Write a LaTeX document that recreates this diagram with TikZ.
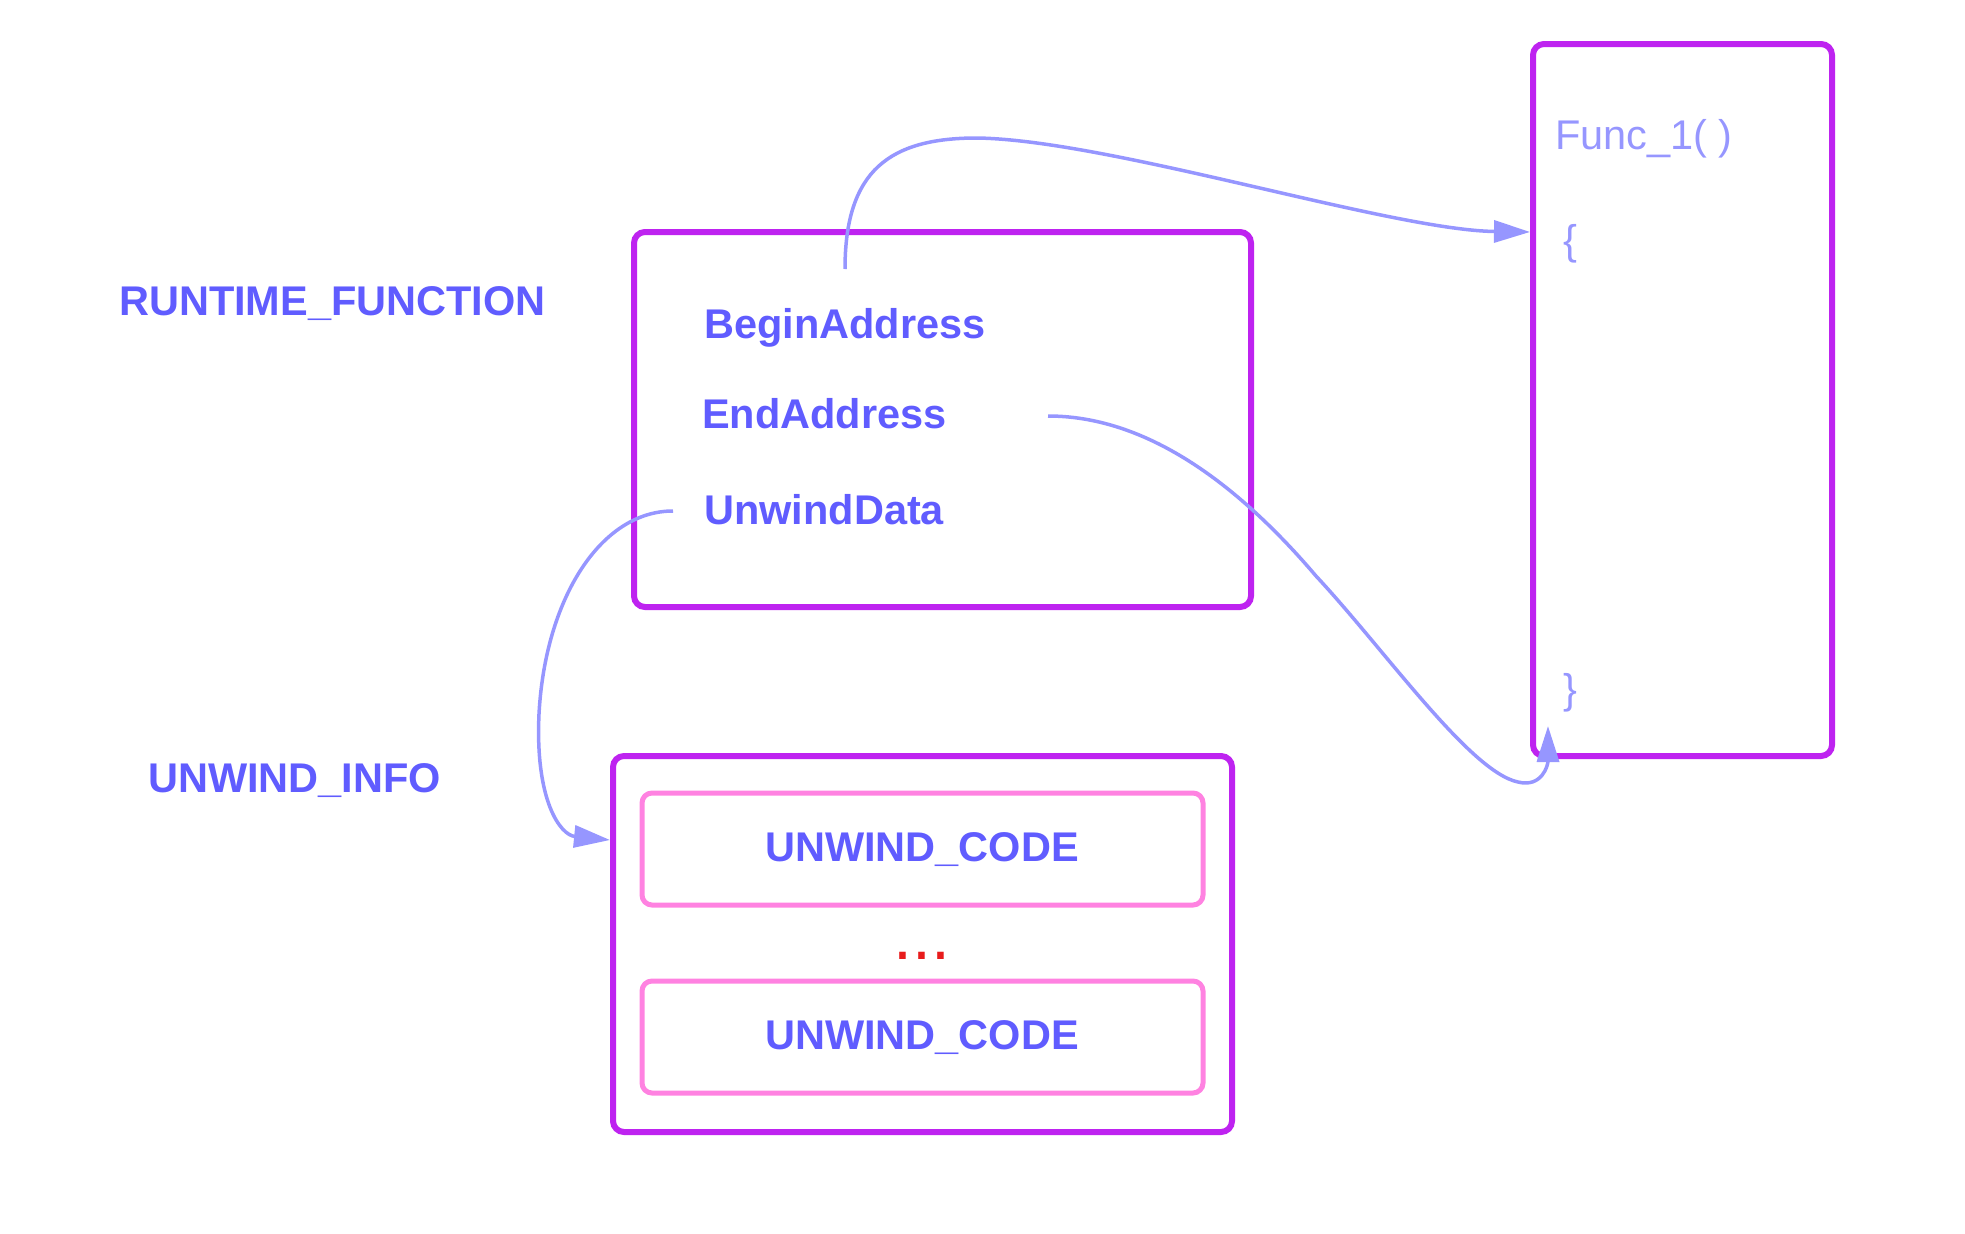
\documentclass[tikz,border=0pt]{standalone}
\usepackage{fontspec}
\setmainfont{Liberation Sans}
\usetikzlibrary{arrows.meta}
\definecolor{boxpurple}{RGB}{190,35,240}
\definecolor{txtblue}{RGB}{96,92,255}
\definecolor{lightblue}{RGB}{150,150,255}
\definecolor{pinkc}{RGB}{255,130,225}
\definecolor{dotred}{RGB}{232,28,28}
\tikzset{
  bigbox/.style={draw=boxpurple, line width=6pt, rounded corners=11pt, inner sep=0pt},
  codebox/.style={draw=pinkc, line width=5pt, rounded corners=10pt, inner sep=0pt},
  lbl/.style={inner sep=0pt, anchor=base west, text=txtblue, font=\fontsize{41.5}{48}\selectfont\bfseries},
  codelbl/.style={inner sep=0pt, anchor=base, text=txtblue, font=\fontsize{41.5}{48}\selectfont\bfseries},
  lighttxt/.style={inner sep=0pt, anchor=base west, text=lightblue, font=\fontsize{41.5}{48}\selectfont},
  conn/.style={draw=lightblue, line width=3.5pt, -{Triangle[length=36pt,width=22pt]}}
}
\begin{document}
\begin{tikzpicture}[x=1pt,y=-1pt]
\useasboundingbox (0,0) rectangle (1965,1234);
% boxes
\node[bigbox, minimum width=617pt, minimum height=375pt] (rf) at (942.5,419.5) {};
\node[bigbox, minimum width=299pt, minimum height=712pt] (func) at (1682.5,400) {};
\node[bigbox, minimum width=619pt, minimum height=376pt] (ui) at (922.5,944) {};
\node[codebox, minimum width=561pt, minimum height=112pt] (uc1) at (922.5,849) {};
\node[codebox, minimum width=561pt, minimum height=112pt] (uc2) at (922.5,1037) {};
% labels
\node[lbl] (lrf) at (119,315) {RUNTIME\_FUNCTION};
\node[lbl] (lui) at (148,792) {UNWIND\_INFO};
\node[lbl] (lba) at (704,338) {BeginAddress};
\node[lbl] (lea) at (702,428) {EndAddress};
\node[lbl] (lud) at (704,524) {UnwindData};
\node[codelbl] (luc1) at (922,861) {UNWIND\_CODE};
\node[codelbl] (luc2) at (922,1049) {UNWIND\_CODE};
\node[inner sep=0pt, anchor=base, text=dotred, font=\fontsize{68}{68}\selectfont] (dots) at (922,959) {...};
\node[lighttxt] (lfn) at (1555,149) {Func\_1( )};
\node[lighttxt] (lob) at (1563,254) {\{};
\node[lighttxt] (lcb) at (1563,703) {\}};
% connector coordinates
\coordinate (s1) at (845,269);
\coordinate (m1) at (977,138);
\coordinate (e1) at (func.west |- 0,232);
\coordinate (s2) at (1048,416);
\coordinate (m2) at (1316,576);
\coordinate (m2b) at (1518,782);
\coordinate (e2) at (1548,726);
\coordinate (s3) at (673,511);
\coordinate (m3) at (539,714);
\coordinate (e3) at (ui.west |- 0,840);
% connectors
\draw[conn] (s1) .. controls (845,170) and (890,138) .. (m1)
  .. controls (1110,140) and (1390,230) .. (e1);
\draw[conn] (s2) .. controls (1140,416) and (1230,475) .. (m2)
  .. controls (1385,650) and (1470,772) .. (m2b)
  .. controls (1542,788) and (1548,765) .. (e2);
\draw[conn] (s3) .. controls (600,511) and (545,600) .. (m3)
  .. controls (535,800) and (560,835) .. (e3);
\end{tikzpicture}
\end{document}
